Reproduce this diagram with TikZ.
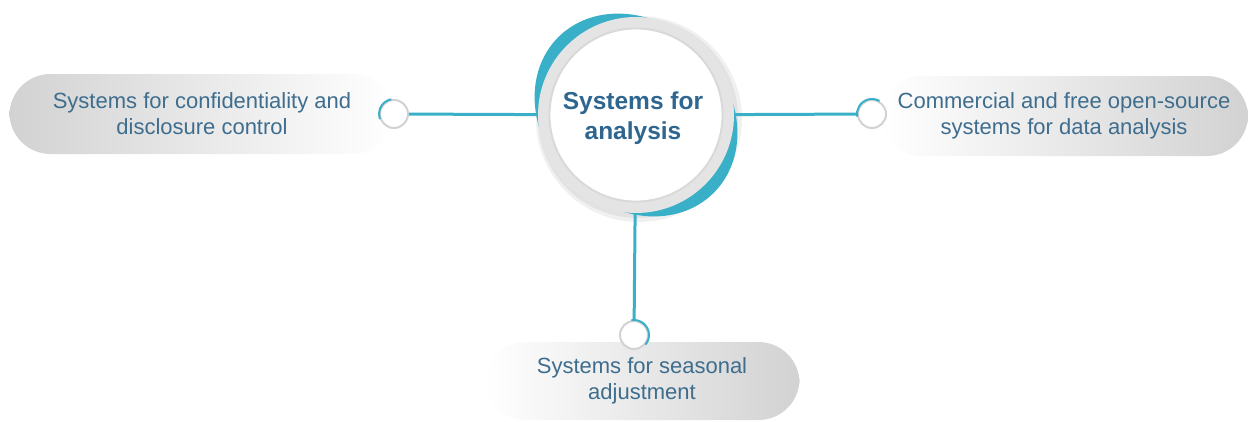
\documentclass[tikz,border=0pt]{standalone}
\usepackage{fontspec}
\setmainfont{Liberation Sans}
\definecolor{tealc}{HTML}{3AB0C8}
\definecolor{ringgray}{HTML}{E4E4E4}
\definecolor{txtc}{HTML}{3E6D8E}
\definecolor{hubtxtc}{HTML}{2F6690}
\definecolor{pillgray}{HTML}{D2D2D2}
\begin{document}
\begin{tikzpicture}[x=1pt,y=-1pt,
  pill/.style={rounded corners=41pt, minimum height=80pt, inner sep=0pt,
    text=txtc, align=center, font=\fontsize{22pt}{26pt}\selectfont},
  dotc/.style={circle, minimum size=28pt, inner sep=0pt, fill=white, draw=gray!35, line width=2pt},
  conn/.style={draw=tealc, line width=3pt},
  tealarc/.style={draw=tealc, line width=2pt},
  hubtext/.style={text=hubtxtc, align=center, font=\fontsize{24.5pt}{30pt}\selectfont\bfseries}
]
\useasboundingbox (0,0) rectangle (1248,421);
% pills
\node[pill, minimum width=385pt, left color=pillgray, right color=white] (lpill) at (202,114)
  {Systems for confidentiality and\\disclosure control};
\node[pill, minimum width=368pt, left color=white, right color=pillgray] (rpill) at (1064,116)
  {Commercial and free open-source\\systems for data analysis};
\node[pill, minimum width=315pt, minimum height=78pt, left color=white, right color=pillgray] (bpill) at (642,381)
  {Systems for seasonal\\adjustment};
% hub base
\coordinate (hc) at (636,115);
\fill[black, opacity=0.06] (639,119) circle (103pt);
\fill[black, opacity=0.06] (638,118) circle (100pt);
\fill[tealc] (hc) circle [x radius=110pt, y radius=92pt, rotate=-45];
\node[circle, minimum size=196pt, inner sep=0pt, fill=ringgray] (hub) at (hc) {};
\fill[black, opacity=0.05] (hc) circle (87.5pt);
\fill[white, draw=gray!30, line width=0.8pt] (hc) circle (86pt);
\node[hubtext] (hubtxt) at (633,118) {Systems for\\analysis};
% dots
\node[dotc] (ldot) at (394,114) {};
\node[dotc] (rdot) at (872,114) {};
\node[dotc] (bdot) at (634,335) {};
\draw[tealarc] (ldot.center) ++(100:15pt) arc[start angle=100, end angle=200, radius=15pt];
\draw[tealarc] (rdot.center) ++(60:15pt) arc[start angle=60, end angle=190, radius=15pt];
\draw[tealarc] (bdot.center) ++(-40:15pt) arc[start angle=-40, end angle=100, radius=15pt];
% connectors
\draw[conn] (ldot) -- (hub);
\draw[conn] (hub) -- (rdot);
\draw[conn] (hub) -- (bdot);
\end{tikzpicture}
\end{document}
